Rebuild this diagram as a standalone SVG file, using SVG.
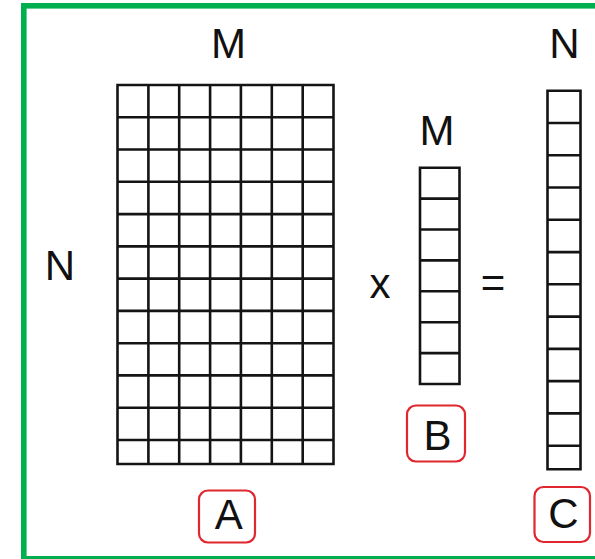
<svg xmlns="http://www.w3.org/2000/svg" width="595" height="559" viewBox="0 0 595 559">
<style>
.grid{fill:none;stroke:#141414;stroke-width:2.6}
.lbl{font-family:"Liberation Sans",Arial,sans-serif;font-size:42px;fill:#111;text-anchor:middle}
.tag{fill:#fff;stroke:#e0262e;stroke-width:2.2}
</style>
<rect width="595" height="559" fill="#fff"/>
<rect x="23.8" y="5.8" width="600" height="553" fill="none" stroke="#00b04f" stroke-width="5.6"/>
<g id="matrixA">
<path class="grid" d="M117.5 85H333.5V464H117.5Z M148.4 85V464 M179.2 85V464 M210.1 85V464 M240.9 85V464 M271.8 85V464 M302.7 85V464 M117.5 117.3H333.5 M117.5 149.5H333.5 M117.5 181.8H333.5 M117.5 214.1H333.5 M117.5 246.4H333.5 M117.5 278.6H333.5 M117.5 310.9H333.5 M117.5 343.2H333.5 M117.5 375.4H333.5 M117.5 407.7H333.5 M117.5 440H333.5"/>
<text class="lbl" x="228.5" y="57.7">M</text>
<text class="lbl" x="60" y="280">N</text>
</g>
<g id="vectorB">
<path class="grid" d="M420 167.7H459.5V384H420Z M420 198.6H459.5 M420 229.5H459.5 M420 260.4H459.5 M420 291.3H459.5 M420 322.2H459.5 M420 353.1H459.5"/>
<text class="lbl" x="437" y="145">M</text>
</g>
<g id="vectorC">
<path class="grid" d="M547.5 90.7H580.5V469.3H547.5Z M547.5 123H580.5 M547.5 155.2H580.5 M547.5 187.5H580.5 M547.5 219.8H580.5 M547.5 252.1H580.5 M547.5 284.3H580.5 M547.5 316.6H580.5 M547.5 348.9H580.5 M547.5 381.1H580.5 M547.5 413.4H580.5 M547.5 445.7H580.5"/>
<text class="lbl" x="564.5" y="58.3">N</text>
</g>
<g id="operators">
<text class="lbl" x="380" y="298">x</text>
<text class="lbl" x="493" y="297">=</text>
</g>
<g id="labelA">
<rect class="tag" x="199" y="490.5" width="56" height="52" rx="9"/>
<text class="lbl" x="228.7" y="529.3">A</text>
</g>
<g id="labelB">
<rect class="tag" x="407" y="405.5" width="58" height="56" rx="9"/>
<text class="lbl" x="437.5" y="449.5">B</text>
</g>
<g id="labelC">
<rect class="tag" x="534.5" y="487" width="55.5" height="55" rx="9"/>
<text class="lbl" x="563.5" y="527.5">C</text>
</g>
</svg>
